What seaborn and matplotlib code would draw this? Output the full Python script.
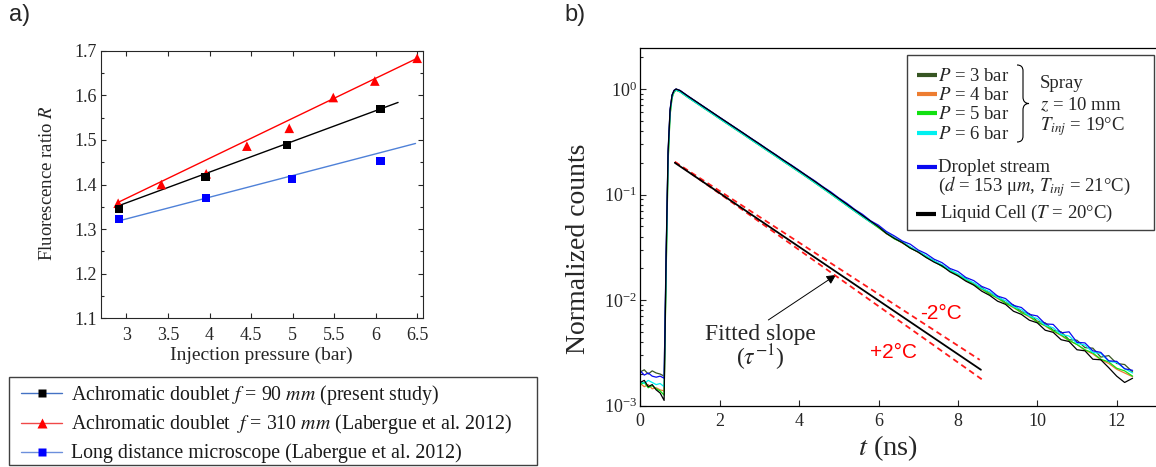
import numpy as np
import pandas as pd
import seaborn as sns
import matplotlib.pyplot as plt
from matplotlib.patches import Rectangle, PathPatch
from matplotlib.path import Path
from matplotlib.ticker import LogLocator, NullFormatter, MultipleLocator

# ---------------- panel a data ----------------
pressure_f90 = [2.91, 3.95, 4.93, 6.06]
ratio_f90 = [1.345, 1.417, 1.489, 1.569]
pressure_f310 = [2.90, 3.42, 3.96, 4.45, 4.96, 5.49, 5.99, 6.50]
ratio_f310 = [1.358, 1.400, 1.424, 1.486, 1.526, 1.595, 1.632, 1.683]
pressure_ldm = [2.91, 3.96, 4.99, 6.06]
ratio_ldm = [1.323, 1.370, 1.412, 1.453]

fit_p_f90, fit_r_f90 = [2.90, 6.27], [1.352, 1.584]
fit_p_f310, fit_r_f310 = [2.90, 6.50], [1.360, 1.683]
fit_p_ldm, fit_r_ldm = [2.90, 6.48], [1.318, 1.492]

xticks_a = [3, 3.5, 4, 4.5, 5, 5.5, 6, 6.5]
xticklabels_a = ["3", "3.5", "4", "4.5", "5", "5.5", "6", "6.5"]
yticks_a = [1.1, 1.2, 1.3, 1.4, 1.5, 1.6, 1.7]
yticklabels_a = ["1.1", "1.2", "1.3", "1.4", "1.5", "1.6", "1.7"]

legend_a = ["Achromatic doublet $f$ = 90 $mm$ (present study)",
            "Achromatic doublet  $f$ = 310 $mm$ (Labergue et al. 2012)",
            "Long distance microscope (Labergue et al. 2012)"]

# ---------------- panel b data (log10 of normalized counts) ----------------
t_ns = [0.0, 0.1, 0.2, 0.3, 0.4, 0.5, 0.6, 0.65, 0.7, 0.75, 0.8, 0.85, 0.9,
        1.0, 1.2, 1.4, 1.6, 1.8, 2.0, 2.2, 2.4, 2.6, 2.8, 3.0, 3.2, 3.4, 3.6, 3.8,
        4.0, 4.2, 4.4, 4.6, 4.8, 5.0, 5.2, 5.4, 5.6, 5.8,
        6.0, 6.2, 6.4, 6.6, 6.8, 7.0, 7.2, 7.4, 7.6, 7.8, 8.0, 8.2, 8.4, 8.6, 8.8,
        9.0, 9.2, 9.4, 9.6, 9.8, 10.0, 10.2, 10.4, 10.6, 10.8, 11.0, 11.2, 11.4,
        11.6, 11.8, 12.0, 12.2, 12.4]

log_p3 = [-2.68, -2.66, -2.70, -2.67, -2.69, -2.70, -2.72, -1.62, -0.62, -0.21, -0.06, -0.016, -0.002,
          -0.015, -0.068, -0.118, -0.169, -0.219, -0.270, -0.320, -0.370, -0.420, -0.471, -0.521, -0.572,
          -0.622, -0.673, -0.723, -0.774, -0.825, -0.877, -0.930, -0.983, -1.037, -1.091, -1.145, -1.199, -1.252,
          -1.305, -1.362, -1.410, -1.450, -1.498, -1.540, -1.585, -1.628, -1.672, -1.712, -1.760, -1.795,
          -1.850, -1.880, -1.935, -1.962, -2.025, -2.045, -2.110, -2.128, -2.200, -2.215, -2.285, -2.300,
          -2.375, -2.380, -2.450, -2.455, -2.540, -2.525, -2.600, -2.610, -2.680]
log_p4 = [-2.79, -2.82, -2.80, -2.84, -2.83, -2.85, -2.86, -1.75, -0.68, -0.24, -0.08, -0.027, -0.010,
          -0.027, -0.080, -0.130, -0.181, -0.231, -0.282, -0.332, -0.382, -0.432, -0.483, -0.533, -0.584,
          -0.634, -0.685, -0.735, -0.786, -0.837, -0.889, -0.942, -0.995, -1.049, -1.103, -1.157, -1.210, -1.262,
          -1.310, -1.372, -1.412, -1.460, -1.500, -1.548, -1.588, -1.635, -1.676, -1.722, -1.762, -1.810,
          -1.850, -1.898, -1.938, -1.985, -2.028, -2.072, -2.115, -2.160, -2.205, -2.245, -2.295, -2.335,
          -2.385, -2.420, -2.475, -2.510, -2.565, -2.600, -2.655, -2.690, -2.725]
log_p5 = [-2.80, -2.78, -2.83, -2.81, -2.84, -2.86, -2.90, -1.78, -0.70, -0.25, -0.085, -0.030, -0.012,
          -0.027, -0.080, -0.130, -0.181, -0.231, -0.282, -0.332, -0.382, -0.432, -0.483, -0.533, -0.584,
          -0.634, -0.685, -0.735, -0.786, -0.837, -0.889, -0.942, -0.995, -1.049, -1.103, -1.157, -1.210, -1.262,
          -1.315, -1.368, -1.420, -1.455, -1.508, -1.542, -1.595, -1.630, -1.682, -1.718, -1.768, -1.805,
          -1.855, -1.892, -1.945, -1.978, -2.030, -2.065, -2.120, -2.150, -2.210, -2.240, -2.290, -2.330,
          -2.380, -2.420, -2.470, -2.500, -2.560, -2.585, -2.645, -2.670, -2.720]
log_p6 = [-2.77, -2.79, -2.76, -2.78, -2.80, -2.79, -2.82, -1.72, -0.66, -0.23, -0.075, -0.025, -0.008,
          -0.027, -0.080, -0.130, -0.181, -0.231, -0.282, -0.332, -0.382, -0.432, -0.483, -0.533, -0.584,
          -0.634, -0.685, -0.735, -0.786, -0.837, -0.889, -0.942, -0.995, -1.049, -1.103, -1.157, -1.210, -1.262,
          -1.305, -1.360, -1.410, -1.450, -1.495, -1.540, -1.580, -1.628, -1.665, -1.715, -1.750, -1.800,
          -1.835, -1.888, -1.920, -1.975, -2.005, -2.062, -2.090, -2.150, -2.175, -2.238, -2.262, -2.325,
          -2.340, -2.410, -2.425, -2.495, -2.505, -2.580, -2.590, -2.650, -2.690]
log_droplet = [-2.67, -2.71, -2.69, -2.72, -2.73, -2.72, -2.74, -1.55, -0.58, -0.19, -0.055, -0.012, 0.0,
               -0.013, -0.066, -0.117, -0.167, -0.218, -0.268, -0.318, -0.368, -0.418, -0.469, -0.518, -0.570,
               -0.619, -0.671, -0.719, -0.770, -0.822, -0.871, -0.926, -0.975, -1.032, -1.082, -1.140, -1.188, -1.248,
               -1.290, -1.350, -1.392, -1.440, -1.470, -1.525, -1.560, -1.612, -1.645, -1.700, -1.728, -1.785,
               -1.815, -1.870, -1.900, -1.962, -1.985, -2.050, -2.070, -2.135, -2.150, -2.225, -2.230, -2.310,
               -2.300, -2.400, -2.405, -2.480, -2.495, -2.575, -2.580, -2.650, -2.665]
log_cell = [-2.78, -2.76, -2.82, -2.80, -2.85, -2.88, -2.95, -1.60, -0.60, -0.20, -0.06, -0.015, 0.0,
            -0.015, -0.068, -0.118, -0.169, -0.219, -0.270, -0.320, -0.370, -0.420, -0.471, -0.521, -0.572,
            -0.622, -0.673, -0.723, -0.774, -0.825, -0.877, -0.930, -0.983, -1.037, -1.091, -1.145, -1.199, -1.252,
            -1.305, -1.368, -1.415, -1.455, -1.507, -1.545, -1.596, -1.640, -1.675, -1.732, -1.770, -1.820,
            -1.858, -1.915, -1.955, -2.010, -2.040, -2.105, -2.135, -2.190, -2.215, -2.285, -2.305, -2.375,
            -2.392, -2.470, -2.480, -2.560, -2.565, -2.640, -2.720, -2.780, -2.740]

series_names = ["P3", "P4", "P5", "P6", "droplet", "cell"]
series_logs = [log_p3, log_p4, log_p5, log_p6, log_droplet, log_cell]
series_colors = ["#375623", "#ED7D31", "#11E011", "#00F0F0", "#0A0AF0", "#000000"]

fit_t = [0.87, 8.58]
fit_counts = [0.200, 0.00219]
fit_t_minus2 = [0.87, 8.55]
fit_counts_minus2 = [0.204, 0.00272]
fit_t_plus2 = [0.87, 8.60]
fit_counts_plus2 = [0.204, 0.00178]

legend_b = ["$P$ = 3 bar", "$P$ = 4 bar", "$P$ = 5 bar", "$P$ = 6 bar"]

# ---------------- style ----------------
sns.set_style("ticks")
plt.rcParams["font.family"] = ["Liberation Serif", "DejaVu Serif"]
plt.rcParams["mathtext.fontset"] = "stix"

W, H = 1156, 467
fig = plt.figure(figsize=(W / 100, H / 100), dpi=100)


def box(l, t, r, b):
    return [l / W, 1 - b / H, (r - l) / W, (b - t) / H]


# ---------------- panel a ----------------
ax_a = fig.add_axes(box(100.7, 50.7, 423, 318.3))
sns.lineplot(x=fit_p_f310, y=fit_r_f310, color="#ff0000", lw=1, ax=ax_a)
sns.lineplot(x=fit_p_f90, y=fit_r_f90, color="black", lw=1, ax=ax_a)
sns.lineplot(x=fit_p_ldm, y=fit_r_ldm, color="#4f81d8", lw=1, ax=ax_a)
sns.scatterplot(x=pressure_f310, y=ratio_f310, marker="^", color="#ff0000", s=48,
                edgecolor="none", ax=ax_a, zorder=3)
sns.scatterplot(x=pressure_f90, y=ratio_f90, marker="s", color="black", s=36,
                edgecolor="none", ax=ax_a, zorder=3)
sns.scatterplot(x=pressure_ldm, y=ratio_ldm, marker="s", color="#0000ff", s=36,
                edgecolor="none", ax=ax_a, zorder=3)

ax_a.set_xlim(2.69, 6.57)
ax_a.set_ylim(1.1, 1.7)
ax_a.set_xticks(xticks_a)
ax_a.set_xticklabels(xticklabels_a)
ax_a.set_yticks(yticks_a)
ax_a.set_yticklabels(yticklabels_a)
ax_a.yaxis.set_minor_locator(MultipleLocator(0.05))
ax_a.tick_params(which="both", direction="in", top=True, right=True, width=0.8,
                 colors="#262626", labelsize=13)
ax_a.tick_params(which="major", length=3.5)
ax_a.tick_params(which="minor", length=2.5)
ax_a.tick_params(axis="x", pad=6.5)
ax_a.tick_params(axis="y", pad=3)
for sp in ax_a.spines.values():
    sp.set_color("#262626")
    sp.set_linewidth(0.8)
ax_a.set_xlabel("Injection pressure (bar)", fontsize=14, va="center")
ax_a.xaxis.set_label_coords(0.497, -0.137)
ax_a.set_ylabel("Fluorescence ratio $R$", fontsize=13.5, va="center")
ax_a.yaxis.set_label_coords(-0.165, 0.505)

# ---------------- panel b ----------------
ax_b = fig.add_axes(box(640.3, 48.3, 1156.4, 405.7))
ax_b.set_yscale("log")
for name, logs, col in zip(series_names, series_logs, series_colors):
    df = pd.DataFrame({"t": t_ns, "counts": 10 ** np.array(logs)})
    sns.lineplot(data=df, x="t", y="counts", color=col, lw=0.9, sort=False,
                 estimator=None, ax=ax_b)

sns.lineplot(x=fit_t_minus2, y=fit_counts_minus2, color="#ff1a1a", lw=1.3,
             ax=ax_b, zorder=4).lines[-1].set_dashes([3.2, 2.2])
sns.lineplot(x=fit_t_plus2, y=fit_counts_plus2, color="#ff1a1a", lw=1.3,
             ax=ax_b, zorder=4).lines[-1].set_dashes([3.2, 2.2])
sns.lineplot(x=fit_t, y=fit_counts, color="black", lw=1.3, ax=ax_b, zorder=5)

ax_b.set_xlim(0, 13)
ax_b.set_ylim(1e-3, 2.43)
ax_b.set_xticks([0, 2, 4, 6, 8, 10, 12])
ax_b.yaxis.set_major_locator(LogLocator(base=10, numticks=10))
ax_b.yaxis.set_minor_locator(LogLocator(base=10, subs=np.arange(2, 10), numticks=20))
ax_b.yaxis.set_minor_formatter(NullFormatter())
ax_b.tick_params(which="both", direction="in", top=False, right=False, width=0.8,
                 colors="#262626", labelsize=13)
ax_b.tick_params(which="major", length=4)
ax_b.tick_params(which="minor", length=2.5)
ax_b.tick_params(axis="x", pad=5)
ax_b.tick_params(axis="y", pad=2.5)
ax_b.spines["right"].set_visible(False)
for sp in ["left", "bottom", "top"]:
    ax_b.spines[sp].set_color("black")
    ax_b.spines[sp].set_linewidth(0.9)
ax_b.set_xlabel("$t$ (ns)", fontsize=20.5, va="center")
ax_b.xaxis.set_label_coords(0.48, -0.12)
ax_b.set_ylabel("Normalized counts", fontsize=20, va="center")
ax_b.yaxis.set_label_coords(-0.119, 0.4385)

ax_b.annotate("", xy=(4.93, 10 ** -1.761), xytext=(3.225, 10 ** -2.188),
              arrowprops=dict(arrowstyle="-|>", color="black", lw=0.7, mutation_scale=14,
                              shrinkA=0, shrinkB=0))
ax_b.text(3.02, 10 ** -2.377, "Fitted slope", ha="center", va="baseline", fontsize=17)
ax_b.text(3.02, 10 ** -2.614, r"($\tau^{-1}$)", ha="center", va="baseline", fontsize=17)
ax_b.text(7.57, 10 ** -2.181, "-2°C", ha="center", va="baseline", fontsize=15,
          color="#ff0000", family="Liberation Sans")
ax_b.text(6.373, 10 ** -2.55, "+2°C", ha="center", va="baseline", fontsize=15,
          color="#ff0000", family="Liberation Sans")

# ---------------- overlay: panel labels and legends (pixel coords) ----------------
ov = fig.add_axes([0, 0, 1, 1], zorder=10)
ov.set_xlim(0, W)
ov.set_ylim(H, 0)
ov.axis("off")

ov.text(9, 15, "a)", fontsize=17, family="Liberation Sans", va="center")
ov.text(564, 15, "b)", fontsize=17, family="Liberation Sans", va="center")

# legend a
ov.add_patch(Rectangle((9, 376.7), 528, 88.3, facecolor="white", edgecolor="#404040", lw=1))
rows_a = [393.3, 422.7, 451.7]
line_cols_a = ["#4472c4", "#f04848", "#6c8fdc"]
mk_a = ["s", "^", "s"]
mk_cols_a = ["black", "#ff0000", "#0000ff"]
mk_size_a = [6, 7, 6]
for y, lc, mk, mc, ms, lab in zip(rows_a, line_cols_a, mk_a, mk_cols_a, mk_size_a, legend_a):
    ov.plot([20.7, 61.7], [y, y], color=lc, lw=1)
    ov.plot([41.5], [y], marker=mk, color=mc, ms=ms, mec="none")
    ov.text(71, y + 6.3, lab, fontsize=14.3, va="baseline", color="#1a1a1a")

# legend b
ov.add_patch(Rectangle((906.7, 55), 247, 175, facecolor="white", edgecolor="#404040", lw=1))
rows_b = [75, 94.3, 113.3, 133.3]
for y, col, lab in zip(rows_b, series_colors[:4], legend_b):
    ov.plot([917, 937], [y, y], color=col, lw=3, solid_capstyle="butt")
    ov.text(938.5, y + 6, lab, fontsize=13.5, va="baseline")
ov.plot([917, 937], [166.7, 166.7], color=series_colors[4], lw=3, solid_capstyle="butt")
ov.text(937.5, 171.7, "Droplet stream", fontsize=13.5, va="baseline")
ov.text(937.5, 191.7, "($d$ = 153 μ$m$, $T_{inj}$ = 21°C)", fontsize=13.5, va="baseline")
ov.plot([916, 936], [214, 214], color=series_colors[5], lw=3, solid_capstyle="butt")
ov.text(940, 218.3, "Liquid Cell ($T$ = 20°C)", fontsize=13.5, va="baseline")

brace = Path([(1017, 65), (1021, 65), (1023, 67), (1023, 71),
              (1023, 97),
              (1023, 101), (1025, 103.5), (1029, 103.5),
              (1025, 103.5), (1023, 106), (1023, 110),
              (1023, 136),
              (1023, 140), (1021, 142), (1017, 142)],
             [Path.MOVETO, Path.CURVE4, Path.CURVE4, Path.CURVE4,
              Path.LINETO,
              Path.CURVE4, Path.CURVE4, Path.CURVE4,
              Path.CURVE4, Path.CURVE4, Path.CURVE4,
              Path.LINETO,
              Path.CURVE4, Path.CURVE4, Path.CURVE4])
ov.add_patch(PathPatch(brace, facecolor="none", edgecolor="black", lw=0.8))
ov.text(1040, 88, "Spray", fontsize=13.5, va="baseline")
ov.text(1040, 110, "$z$ = 10 mm", fontsize=13.5, va="baseline")
ov.text(1040, 130, "$T_{inj}$ = 19°C", fontsize=13.5, va="baseline")

fig.savefig("out.png", dpi=100)
